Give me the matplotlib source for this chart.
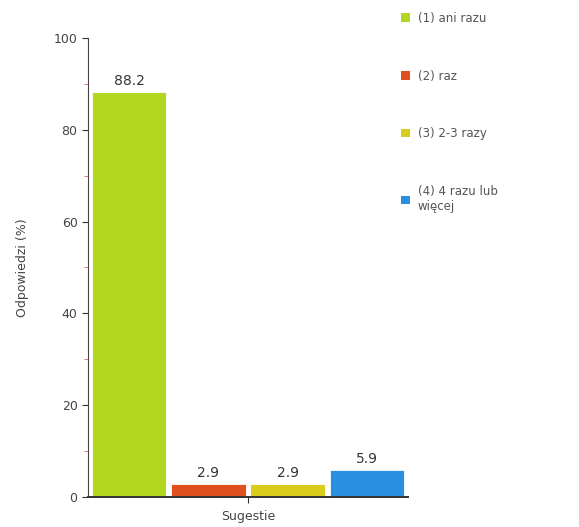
import numpy as np
import matplotlib
matplotlib.use("Agg")
import matplotlib.pyplot as plt
from matplotlib.patches import Patch

categories = ["(1) ani razu", "(2) raz", "(3) 2-3 razy", "(4) 4 razu lub\nwięcej"]
values = [88.2, 2.9, 2.9, 5.9]
colors = ["#b3d61e", "#e0501e", "#d9cc1a", "#2b8fe0"]
y_ticks = [0, 20, 40, 60, 80, 100]

fig = plt.figure(figsize=(5.79, 5.27), dpi=100)
ax = fig.add_axes([0.152, 0.057, 0.553, 0.871])

x = np.arange(len(values))
ax.bar(x, values, 0.94, color=colors, edgecolor="white", linewidth=0.6)

for xi, v in zip(x, values):
    ax.text(xi, v + 0.8, f"{v:.1f}", ha="center", va="bottom",
            fontsize=10, color="#333333")

ax.set_xlim(-0.52, 3.52)
ax.set_ylim(0, 100)
ax.set_yticks(y_ticks)
ax.set_yticks([10, 30, 50, 70, 90], minor=True)
ax.tick_params(axis="y", which="major", length=4, color="#333333",
               labelsize=9, labelcolor="#444444")
ax.tick_params(axis="y", which="minor", length=3, color="#e06060")
ax.set_xticks([1.5])
ax.set_xticklabels([""])
ax.tick_params(axis="x", length=4, color="#333333")

for s in ["top", "right"]:
    ax.spines[s].set_visible(False)
ax.spines["left"].set_color("#444444")
ax.spines["bottom"].set_color("#333333")
ax.spines["bottom"].set_linewidth(1.4)

ax.set_ylabel("Odpowiedzi (%)", fontsize=9, color="#444444", labelpad=18)
ax.set_xlabel("Sugestie", fontsize=9, color="#444444", labelpad=2)

handles = [Patch(facecolor=c, edgecolor="none") for c in colors]
fig.legend(handles, categories, loc="upper left", bbox_to_anchor=(0.675, 0.998),
           frameon=False, fontsize=8.5, handlelength=0.7, handleheight=0.7,
           labelspacing=3.8, labelcolor="#555555", handletextpad=0.7)

fig.savefig("out.png", dpi=100)
